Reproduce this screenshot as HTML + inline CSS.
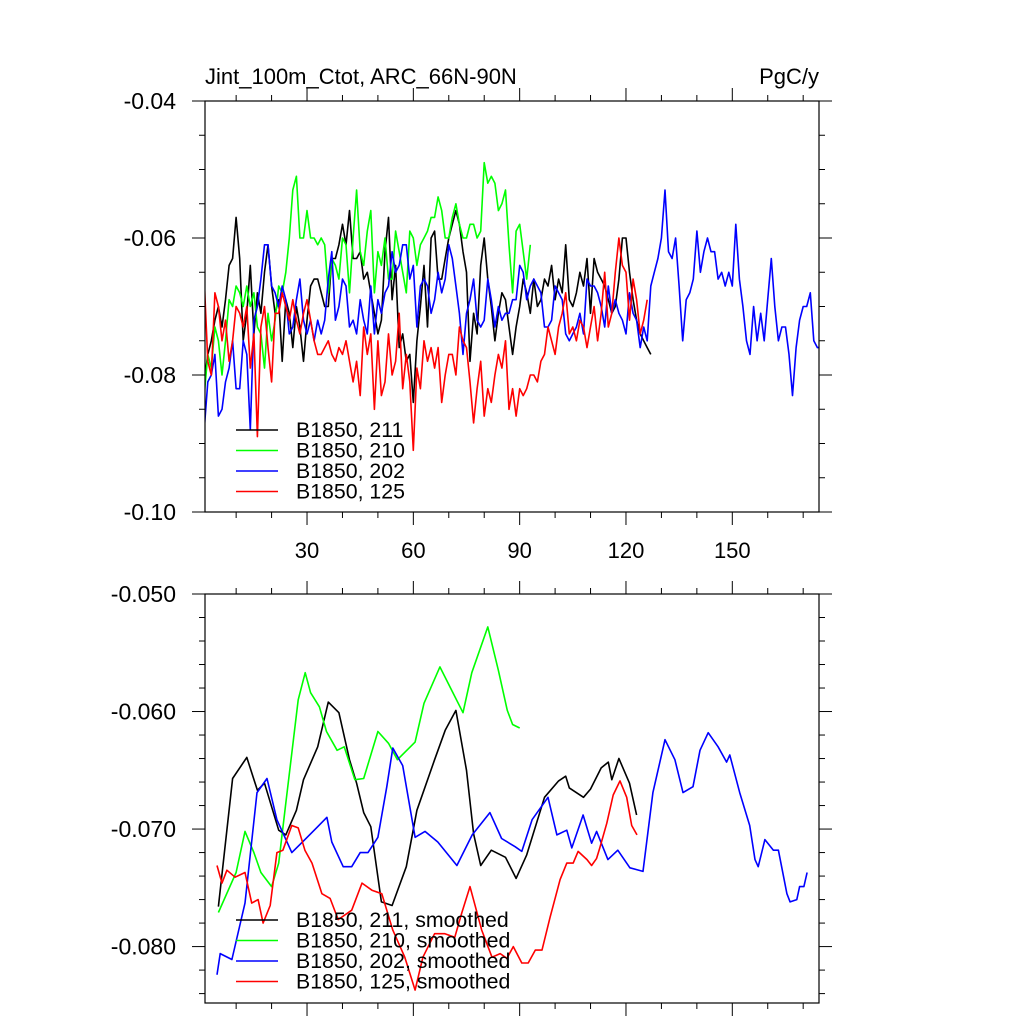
<!DOCTYPE html>
<html><head><meta charset="utf-8"><style>
body{margin:0;background:#fff;}
svg{display:block;font-family:"Liberation Sans",sans-serif;}
</style></head><body>
<svg id="chart" width="1024" height="1024" viewBox="0 0 1024 1024" xmlns="http://www.w3.org/2000/svg">
<rect width="1024" height="1024" fill="#fff"/>
<text x="205" y="84" font-size="22">Jint_100m_Ctot, ARC_66N-90N</text>
<text x="819" y="84" font-size="22" text-anchor="end">PgC/y</text>
<g id="top"></g>
<g id="bot"></g>
</svg>
<script>
const rawBlack=[-0.081,-0.077,-0.075,-0.072,-0.070,-0.073,-0.069,-0.064,-0.063,-0.057,
-0.063,-0.075,-0.071,-0.064,-0.074,-0.068,-0.071,-0.065,-0.061,-0.067,
-0.071,-0.069,-0.078,-0.069,-0.071,-0.076,-0.070,-0.073,-0.078,-0.072,
-0.067,-0.066,-0.066,-0.068,-0.070,-0.070,-0.063,-0.063,-0.061,-0.058,
-0.061,-0.056,-0.063,-0.063,-0.062,-0.066,-0.065,-0.068,-0.071,-0.074,
-0.072,-0.062,-0.057,-0.069,-0.064,-0.076,-0.074,-0.078,-0.077,-0.084,
-0.075,-0.070,-0.064,-0.073,-0.060,-0.059,-0.066,-0.066,-0.063,-0.060,
-0.058,-0.056,-0.058,-0.062,-0.065,-0.078,-0.071,-0.074,-0.064,-0.060,
-0.066,-0.070,-0.075,-0.071,-0.068,-0.069,-0.073,-0.077,-0.073,-0.070,
-0.066,-0.068,-0.071,-0.066,-0.070,-0.069,-0.066,-0.067,-0.064,-0.069,
-0.066,-0.068,-0.061,-0.069,-0.070,-0.068,-0.065,-0.067,-0.063,-0.071,
-0.063,-0.065,-0.066,-0.067,-0.069,-0.071,-0.070,-0.066,-0.060,-0.060,
-0.065,-0.069,-0.072,-0.074,-0.075,-0.076,-0.077];
const rawGreen=[-0.083,-0.077,-0.079,-0.073,-0.075,-0.080,-0.075,-0.069,-0.070,-0.067,
-0.068,-0.070,-0.067,-0.070,-0.068,-0.073,-0.074,-0.079,-0.071,-0.075,
-0.072,-0.067,-0.068,-0.065,-0.060,-0.053,-0.051,-0.060,-0.060,-0.056,
-0.060,-0.060,-0.061,-0.060,-0.061,-0.068,-0.063,-0.064,-0.066,-0.060,
-0.061,-0.068,-0.060,-0.053,-0.062,-0.064,-0.059,-0.056,-0.068,-0.062,
-0.064,-0.060,-0.066,-0.066,-0.059,-0.062,-0.065,-0.068,-0.059,-0.060,
-0.064,-0.061,-0.060,-0.059,-0.057,-0.057,-0.054,-0.056,-0.060,-0.060,
-0.057,-0.055,-0.058,-0.060,-0.060,-0.058,-0.058,-0.060,-0.059,-0.049,
-0.052,-0.051,-0.052,-0.056,-0.055,-0.053,-0.061,-0.068,-0.059,-0.058,-0.062,-0.066,-0.061];
const rawBlue=[-0.088,-0.081,-0.080,-0.077,-0.086,-0.085,-0.081,-0.079,-0.075,-0.082,
-0.082,-0.075,-0.077,-0.088,-0.072,-0.070,-0.066,-0.061,-0.061,-0.067,
-0.068,-0.070,-0.067,-0.069,-0.074,-0.073,-0.069,-0.066,-0.072,-0.074,
-0.072,-0.075,-0.072,-0.074,-0.072,-0.066,-0.062,-0.072,-0.070,-0.066,
-0.067,-0.073,-0.072,-0.074,-0.069,-0.072,-0.074,-0.067,-0.074,-0.069,
-0.071,-0.068,-0.067,-0.062,-0.065,-0.064,-0.061,-0.061,-0.066,-0.064,
-0.073,-0.067,-0.066,-0.067,-0.071,-0.069,-0.065,-0.068,-0.066,-0.061,
-0.063,-0.067,-0.071,-0.077,-0.071,-0.069,-0.066,-0.072,-0.073,-0.072,
-0.066,-0.069,-0.073,-0.070,-0.072,-0.071,-0.071,-0.069,-0.069,-0.064,
-0.065,-0.069,-0.067,-0.066,-0.067,-0.068,-0.073,-0.073,-0.072,-0.067,
-0.068,-0.069,-0.074,-0.075,-0.074,-0.073,-0.071,-0.074,-0.066,-0.067,
-0.067,-0.068,-0.070,-0.073,-0.067,-0.071,-0.069,-0.071,-0.072,-0.074,
-0.068,-0.071,-0.072,-0.076,-0.073,-0.075,-0.067,-0.065,-0.063,-0.060,
-0.053,-0.062,-0.063,-0.060,-0.067,-0.075,-0.069,-0.068,-0.066,-0.059,
-0.065,-0.062,-0.060,-0.062,-0.062,-0.066,-0.065,-0.067,-0.065,-0.067,
-0.058,-0.066,-0.070,-0.075,-0.077,-0.070,-0.075,-0.071,-0.075,-0.069,
-0.063,-0.070,-0.075,-0.073,-0.073,-0.077,-0.083,-0.076,-0.072,-0.070,
-0.070,-0.068,-0.075,-0.076,-0.076];
const rawRed=[-0.066,-0.078,-0.080,-0.068,-0.070,-0.075,-0.072,-0.078,-0.075,-0.070,
-0.071,-0.073,-0.070,-0.079,-0.074,-0.089,-0.073,-0.070,-0.076,-0.081,
-0.071,-0.071,-0.068,-0.070,-0.072,-0.069,-0.072,-0.074,-0.071,-0.069,
-0.072,-0.075,-0.077,-0.077,-0.076,-0.075,-0.077,-0.078,-0.076,-0.077,
-0.075,-0.078,-0.081,-0.078,-0.083,-0.073,-0.077,-0.074,-0.085,-0.075,
-0.083,-0.081,-0.074,-0.080,-0.078,-0.071,-0.082,-0.077,-0.081,-0.091,
-0.079,-0.082,-0.075,-0.078,-0.076,-0.079,-0.076,-0.084,-0.080,-0.077,
-0.077,-0.080,-0.073,-0.075,-0.076,-0.081,-0.087,-0.082,-0.078,-0.086,
-0.082,-0.084,-0.080,-0.077,-0.079,-0.075,-0.085,-0.082,-0.086,-0.082,
-0.083,-0.082,-0.080,-0.080,-0.081,-0.078,-0.077,-0.073,-0.075,-0.077,
-0.073,-0.071,-0.068,-0.074,-0.073,-0.075,-0.072,-0.073,-0.076,-0.073,
-0.070,-0.075,-0.071,-0.065,-0.073,-0.071,-0.065,-0.060,-0.064,-0.065,
-0.072,-0.066,-0.069,-0.074,-0.072,-0.069];

const smBlackX=[5,9,13,16,18,22,24,27,29,33,36,39,42,44,46,48,51,54,58,61,66,69,72,75,77,79,82,86,89,92,97,101,103,104,108,110,113,115,116,118,121,123];
const smBlackY=[-0.0766,-0.0657,-0.0639,-0.0667,-0.0661,-0.0701,-0.0705,-0.0684,-0.0658,-0.0630,-0.0592,-0.0601,-0.0641,-0.0661,-0.0686,-0.0698,-0.0762,-0.0765,-0.0732,-0.0684,-0.0641,-0.0616,-0.0599,-0.0650,-0.0704,-0.0731,-0.0718,-0.0724,-0.0742,-0.0722,-0.0673,-0.0659,-0.0655,-0.0665,-0.0673,-0.0666,-0.0648,-0.0643,-0.0658,-0.0640,-0.0661,-0.0688];
const smGreenX=[5,10,12.5,15,17,20,22,24,27.5,29.5,31,33.5,35.5,38.5,40.5,43.5,46,50,53,55.5,60.5,63,67.5,71,74,76.5,81,84,86.5,88,90];
const smGreenY=[-0.0771,-0.0737,-0.0702,-0.0720,-0.0737,-0.0749,-0.0729,-0.0678,-0.0590,-0.0567,-0.0584,-0.0596,-0.0617,-0.0633,-0.0630,-0.0658,-0.0657,-0.0617,-0.0627,-0.0641,-0.0626,-0.0593,-0.0562,-0.0583,-0.0601,-0.0567,-0.0528,-0.0565,-0.0599,-0.0611,-0.0614];
const smBlueX=[4.6,5.5,8.8,12.5,15.9,18.7,21.5,25.7,29.4,33,35.6,37,40.2,42.6,45,47.2,50,52.5,54.2,57,60.5,63.3,66.9,72.3,76.6,81.6,84.9,88.7,90.6,93.5,98,100.5,103.3,104.7,107.9,110.3,111.7,114.9,117.7,121.1,124.8,127.6,131,133.8,136.1,138.9,140.9,143.2,146,148.4,149.3,152.1,154.9,156.4,157.3,159.2,161.6,163,165.4,166.3,168.2,169,170.2,171.1];
const smBlueY=[-0.0824,-0.0806,-0.0811,-0.0763,-0.0669,-0.0657,-0.0692,-0.0720,-0.0709,-0.0698,-0.0690,-0.0711,-0.0732,-0.0732,-0.0720,-0.0720,-0.0707,-0.0664,-0.0631,-0.0646,-0.0707,-0.0702,-0.0711,-0.0731,-0.0705,-0.0686,-0.0708,-0.0715,-0.0719,-0.0692,-0.0673,-0.0705,-0.0701,-0.0716,-0.0688,-0.0712,-0.0702,-0.0726,-0.0718,-0.0733,-0.0736,-0.0669,-0.0624,-0.0641,-0.0669,-0.0664,-0.0633,-0.0618,-0.0630,-0.0643,-0.0637,-0.0669,-0.0697,-0.0726,-0.0732,-0.0709,-0.0718,-0.0718,-0.0755,-0.0762,-0.0760,-0.0749,-0.0749,-0.0737];
const smRedX=[4.6,6,7.4,9.7,12.5,14.4,16.2,17.6,19.6,21.5,23.2,25.7,27.5,29.4,31.4,34.2,36.5,38.8,42.6,45.5,48.3,51.1,54.2,57.6,60.5,62.7,66,68.9,71.7,73.7,76,79.3,82.2,84.5,86.4,88.2,90.6,92.4,94.4,96.3,98.6,101.4,103.3,105.1,106.5,109,110.3,111.7,112.6,114.6,116.4,118.3,120.2,121.6,123.1];
const smRedY=[-0.0731,-0.0746,-0.0735,-0.0741,-0.0737,-0.0763,-0.0760,-0.0780,-0.0765,-0.0720,-0.0718,-0.0697,-0.0699,-0.0718,-0.0729,-0.0755,-0.0759,-0.0777,-0.0769,-0.0746,-0.0752,-0.0755,-0.0786,-0.0809,-0.0837,-0.0809,-0.0789,-0.0789,-0.0792,-0.0771,-0.0749,-0.0786,-0.0809,-0.0806,-0.0810,-0.0800,-0.0814,-0.0814,-0.0803,-0.0803,-0.0775,-0.0743,-0.0729,-0.0729,-0.0719,-0.0726,-0.0731,-0.0725,-0.0716,-0.0695,-0.0671,-0.0659,-0.0673,-0.0697,-0.0705];

const xTickVals=[30,60,90,120,150];
const topYTicks=[-0.04,-0.06,-0.08,-0.10];
const topYLabels=["-0.04","-0.06","-0.08","-0.10"];
const botYTicks=[-0.05,-0.06,-0.07,-0.08];
const botYLabels=["-0.050","-0.060","-0.070","-0.080"];
const legendTop=["B1850, 211","B1850, 210","B1850, 202","B1850, 125"];
const legendBot=["B1850, 211, smoothed","B1850, 210, smoothed","B1850, 202, smoothed","B1850, 125, smoothed"];
const colors=["#000000","#00ff00","#0000ff","#ff0000"];

const NS="http://www.w3.org/2000/svg";
const L=205,R=819;
const xs=v=>200.7+v*3.544;
function mk(p,t,a){const e=document.createElementNS(NS,t);for(const k in a)e.setAttribute(k,a[k]);p.appendChild(e);return e;}

function panel(g,top,bottom,ymax,ymin,minorStep,yT,yL,legend,series,legY,bottomLabels,name){
  const ys=v=>top+(ymax-v)/(ymax-ymin)*(bottom-top);
  const clip=mk(g,'clipPath',{id:'clip'+name});
  mk(clip,'rect',{x:L,y:top,width:R-L,height:bottom-top});
  series.forEach((s,i)=>{
    const pts=s.x.map((xv,j)=>xs(xv).toFixed(1)+','+ys(s.y[j]).toFixed(1)).join(' ');
    const pl=mk(g,'polyline',{points:pts,fill:'none',stroke:colors[i],'stroke-width':1.6,'stroke-linejoin':'round','clip-path':'url(#clip'+name+')'});
    
    
  });
  const fr=mk(g,'rect',{x:L,y:top,width:R-L,height:bottom-top,fill:'none',stroke:'#000','stroke-width':1.2});
  
  
  for(let v=10;v<=170;v+=10){
    const X=xs(v),len=(v%30===0)?13:6;
    mk(g,'line',{x1:X,x2:X,y1:top,y2:top-len,stroke:'#000','stroke-width':1});
    mk(g,'line',{x1:X,x2:X,y1:bottom,y2:bottom+len,stroke:'#000','stroke-width':1});
  }
  if(bottomLabels){
    xTickVals.forEach(v=>{
      const t=mk(g,'text',{x:xs(v),y:bottom+46,'font-size':22,'text-anchor':'middle'});
      t.textContent=String(v);
      
      
    });
  }
  const n=Math.round((ymax-ymin)/minorStep);
  for(let k=0;k<=n;k++){
    const v=ymax-k*minorStep,Y=ys(v);
    const major=yT.some(t=>Math.abs(t-v)<1e-9);
    const len=major?13:6;
    mk(g,'line',{x1:L,x2:L-len,y1:Y,y2:Y,stroke:'#000','stroke-width':1});
    mk(g,'line',{x1:R,x2:R+len,y1:Y,y2:Y,stroke:'#000','stroke-width':1});
  }
  yT.forEach((v,i)=>{
    const t=mk(g,'text',{x:176,y:ys(v)+8,'font-size':23,'text-anchor':'end'});
    t.textContent=yL[i];
    
    
  });
  legend.forEach((lab,i)=>{
    const Y=legY+i*20.5;
    const ln=mk(g,'line',{x1:236,x2:278,y1:Y,y2:Y,stroke:colors[i],'stroke-width':1.6});
    
    
    const t=mk(g,'text',{x:296,y:Y+7,'font-size':21.3});
    t.textContent=lab;
    
    
  });
}
const idx=a=>a.map((_,i)=>i+1);
panel(document.getElementById('top'),101,512,-0.04,-0.10,0.005,topYTicks,topYLabels,legendTop,
  [{x:idx(rawBlack),y:rawBlack},{x:idx(rawGreen),y:rawGreen},{x:idx(rawBlue),y:rawBlue},{x:idx(rawRed),y:rawRed}],430,true,'top');
panel(document.getElementById('bot'),594,1003,-0.05,-0.0848,0.002,botYTicks,botYLabels,legendBot,
  [{x:smBlackX,y:smBlackY},{x:smGreenX,y:smGreenY},{x:smBlueX,y:smBlueY},{x:smRedX,y:smRedY}],920,false,'bot');
</script>
</body></html>
